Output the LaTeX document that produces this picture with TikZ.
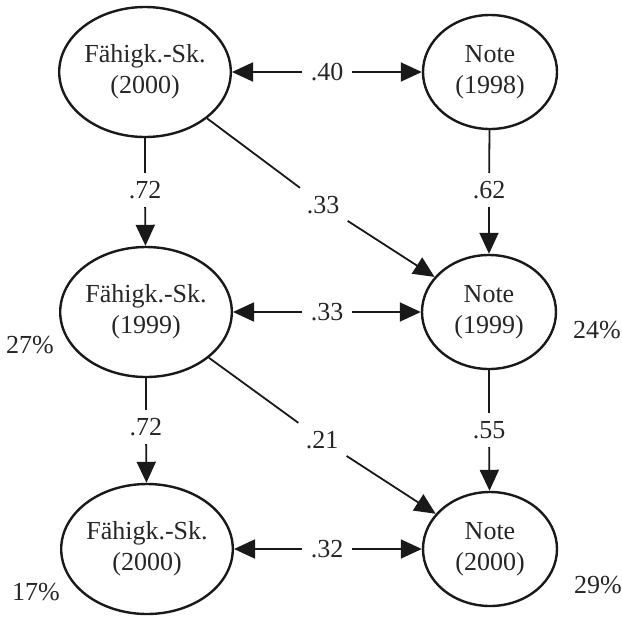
\documentclass[tikz,border=0pt]{standalone}
\usepackage{fontspec}
\setmainfont{Liberation Serif}
\usetikzlibrary{shapes.geometric,arrows.meta}
\begin{document}
\begin{tikzpicture}[x=0.5pt,y=-0.5pt,
  txt/.style={font=\fontsize{13}{15.5}\selectfont, text=black!85},
  var/.style={txt, ellipse, draw=black!90, line width=1.2pt, inner sep=0pt, align=center},
  fvar/.style={var, minimum width=83.5pt, minimum height=65pt},
  nvar/.style={var, minimum width=67pt, minimum height=57pt},
  coef/.style={txt, inner sep=4pt},
  pct/.style={txt, inner sep=0pt},
  link/.style={draw=black!90, line width=0.9pt},
  path/.style={link, -{Triangle[length=10.5pt,width=9.5pt]}}]
\useasboundingbox (0,0) rectangle (622,617);

% latent variables
\node[fvar] (f0) at (145,72)  {Fähigk.-Sk.\\(2000)};
\node[nvar] (n0) at (490,72)  {Note\\(1998)};
\node[fvar] (f1) at (146,312) {Fähigk.-Sk.\\(1999)};
\node[nvar] (n1) at (489,312) {Note\\(1999)};
\node[fvar] (f2) at (147,549) {Fähigk.-Sk.\\(2000)};
\node[nvar] (n2) at (490,549) {Note\\(2000)};

% coefficients
\node[coef] (c0) at (327,72)  {.40};
\node[coef] (c1) at (327,312) {.33};
\node[coef] (c2) at (327,549) {.32};
\node[coef] (v0) at (145,190) {.72};
\node[coef] (v1) at (146,427) {.72};
\node[coef] (w0) at (489,190) {.62};
\node[coef] (w1) at (489,430) {.55};
\node[coef] (d0) at (323,205) {.33};
\node[coef] (d1) at (322,440) {.21};

% explained variance
\node[pct] (p1) at (30,345)  {27\%};
\node[pct] (q1) at (597,330) {24\%};
\node[pct] (p2) at (36,592)  {17\%};
\node[pct] (q2) at (598,585) {29\%};

% correlations
\draw[path] (c0) -- (f0);
\draw[path] (c0) -- (n0);
\draw[path] (c1) -- (f1);
\draw[path] (c1) -- (n1);
\draw[path] (c2) -- (f2);
\draw[path] (c2) -- (n2);

% stability paths
\draw[link] (f0) -- (v0);
\draw[path] (v0) -- (f1);
\draw[link] (f1) -- (v1);
\draw[path] (v1) -- (f2);
\draw[link] (n0) -- (w0);
\draw[path] (w0) -- (n1);
\draw[link] (n1) -- (w1);
\draw[path] (w1) -- (n2);

% cross-lagged paths
\draw[link] (f0) -- (d0);
\draw[path] (d0) -- (n1);
\draw[link] (f1) -- (d1);
\draw[path] (d1) -- (n2);
\end{tikzpicture}
\end{document}
